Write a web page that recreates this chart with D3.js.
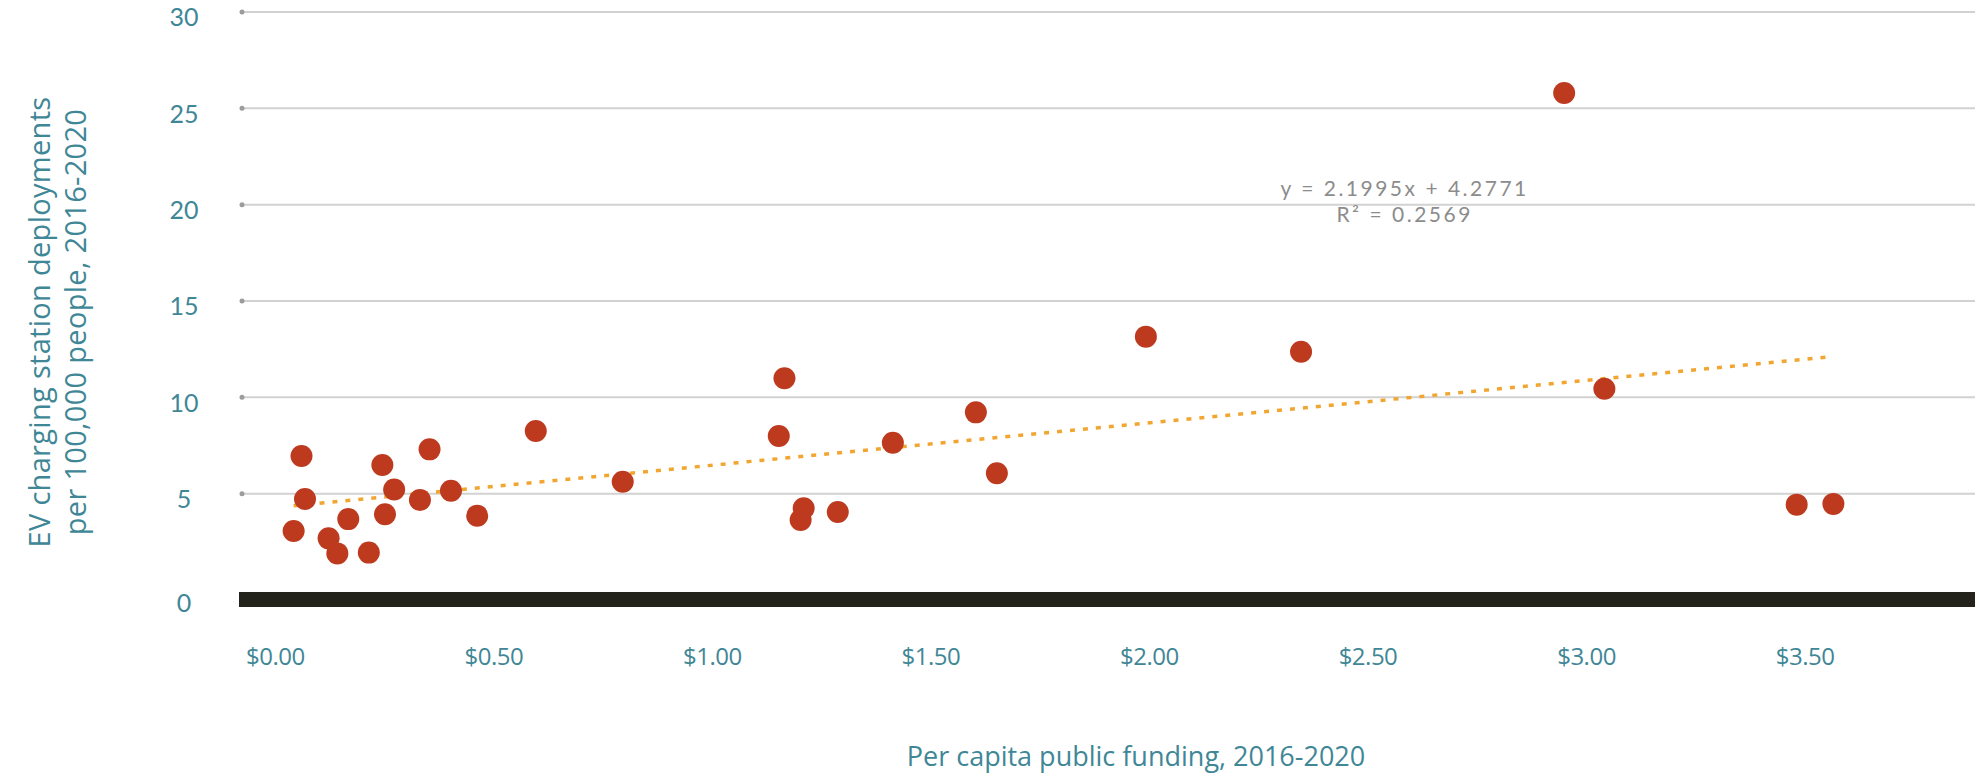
<!DOCTYPE html>
<html>
<head>
	<meta charset="utf-8">
	<title>EV charging stations vs public funding</title>
	<script src="https://d3js.org/d3.v7.min.js"></script>
	<style type="text/css">
		body { margin: 0; background: #fff; }
		.ytick text { font-family: Lato, "Open Sans", sans-serif; font-size: 25px; fill: #3f8796; }
		.xtick text { font-family: "Open Sans", sans-serif; font-size: 24px; letter-spacing: -0.5px; fill: #3f8796; }
		.title { font-family: "Open Sans", sans-serif; font-size: 27px; fill: #3f8796; }
		.ytitle { font-size: 29px; letter-spacing: 0.3px; }
		.eq { font-family: Lato, "Open Sans", sans-serif; font-size: 21px; letter-spacing: 2.5px; fill: #8c8c8c; }
	</style>
</head>
<body>
<div id="chart"></div>
	<script type="text/javascript">
	// per capita public funding ($), 2016-2020
	var funding = [0.061, 0.069, 0.043, 0.123, 0.143, 0.168, 0.215, 0.246, 0.252, 0.273,
		0.332, 0.354, 0.403, 0.463, 0.597, 0.796, 1.166, 1.153, 1.210, 1.203,
		1.288, 1.414, 1.604, 1.652, 1.993, 2.348, 2.950, 3.042, 3.482, 3.566];
	// EV charging station deployments per 100,000 people
	var deployments = [6.95, 4.72, 3.06, 2.68, 1.90, 3.68, 1.94, 6.49, 3.93, 5.22,
		4.67, 7.30, 5.15, 3.86, 8.25, 5.62, 10.99, 7.99, 4.24, 3.63,
		4.05, 7.64, 9.22, 6.06, 13.15, 12.37, 25.8, 10.45, 4.43, 4.47];
	var xTicks = [0, 0.5, 1, 1.5, 2, 2.5, 3, 3.5];
	var yTicks = [0, 5, 10, 15, 20, 25, 30];
	var slope = 2.1995, intercept = 4.2771, r2 = 0.2569;

	var width = 1975,
		height = 776,
		margin = {top: 12, right: 0, bottom: 186, left: 239},
		innerW = width - margin.left - margin.right,
		innerH = height - margin.top - margin.bottom;

	var svg = d3.select('#chart')
		.append('svg')
		.attr('width', width)
		.attr('height', height);

	var g = svg.append('g')
		.attr('transform', 'translate(' + margin.left + ',' + margin.top + ')');

	var x = d3.scaleLinear().domain([-0.082, 3.89]).range([0, innerW]);
	var y = d3.scaleLinear().domain([0, 30]).range([innerH, 0]);

	// gridlines
	var grid = g.selectAll('g.grid')
		.data(yTicks.filter(function(d) { return d > 0; }))
		.enter().append('g')
		.attr('class', 'grid');
	grid.append('line')
		.attr('x1', 3).attr('x2', innerW)
		.attr('y1', function(d) { return y(d); })
		.attr('y2', function(d) { return y(d); })
		.attr('stroke', '#d2d2d2')
		.attr('stroke-width', 2);
	grid.append('circle')
		.attr('cx', 3).attr('cy', function(d) { return y(d); })
		.attr('r', 2.5)
		.attr('fill', '#9c9c9c');

	// thick baseline
	g.append('rect')
		.attr('x', 0)
		.attr('y', y(0) + 2)
		.attr('width', innerW)
		.attr('height', 15)
		.attr('fill', '#23231c');

	// y axis labels
	var yAxis = g.append('g')
		.attr('class', 'ytick')
		.call(d3.axisLeft(y).tickValues(yTicks).tickSize(0));
	yAxis.select('.domain').remove();
	yAxis.selectAll('text')
		.attr('x', -55)
		.attr('dy', function(d) { return d === 0 ? '0.85em' : '0.55em'; })
		.attr('text-anchor', 'middle');

	// x axis labels
	var xAxis = g.append('g')
		.attr('class', 'xtick')
		.attr('transform', 'translate(0,' + innerH + ')')
		.call(d3.axisBottom(x).tickValues(xTicks).tickSize(0)
			.tickFormat(function(d) { return '$' + d.toFixed(2); }));
	xAxis.select('.domain').remove();
	xAxis.selectAll('text')
		.attr('y', 67)
		.attr('dy', '0.35em');

	// trendline over the data range
	var xExt = d3.extent(funding);
	g.append('line')
		.attr('x1', x(xExt[0])).attr('y1', y(slope * xExt[0] + intercept))
		.attr('x2', x(xExt[1])).attr('y2', y(slope * xExt[1] + intercept))
		.attr('stroke', '#f2a632')
		.attr('stroke-width', 3.5)
		.attr('stroke-dasharray', '5,8');

	// points
	g.selectAll('circle.dot')
		.data(funding)
		.enter().append('circle')
		.attr('class', 'dot')
		.attr('cx', function(d) { return x(d); })
		.attr('cy', function(d, i) { return y(deployments[i]); })
		.attr('r', 11)
		.attr('fill', '#bd3a1f');

	// regression label
	g.append('text')
		.attr('class', 'eq')
		.attr('x', x(2.585)).attr('y', y(20.85))
		.attr('text-anchor', 'middle')
		.attr('dy', '0.35em')
		.text('y = ' + slope + 'x + ' + intercept);
	g.append('text')
		.attr('class', 'eq')
		.attr('x', x(2.585)).attr('y', y(19.5))
		.attr('text-anchor', 'middle')
		.attr('dy', '0.35em')
		.text('R² = ' + r2);

	// axis titles
	svg.append('text')
		.attr('class', 'title ytitle')
		.attr('transform', 'translate(40,322) rotate(-90)')
		.attr('text-anchor', 'middle')
		.attr('dy', '0.35em')
		.text('EV charging station deployments');
	svg.append('text')
		.attr('class', 'title ytitle')
		.attr('transform', 'translate(76,322) rotate(-90)')
		.attr('text-anchor', 'middle')
		.attr('dy', '0.35em')
		.text('per 100,000 people, 2016-2020');
	svg.append('text')
		.attr('class', 'title')
		.attr('x', 1136).attr('y', 757)
		.attr('text-anchor', 'middle')
		.attr('dy', '0.35em')
		.text('Per capita public funding, 2016-2020');
	</script>
</body>
</html>
